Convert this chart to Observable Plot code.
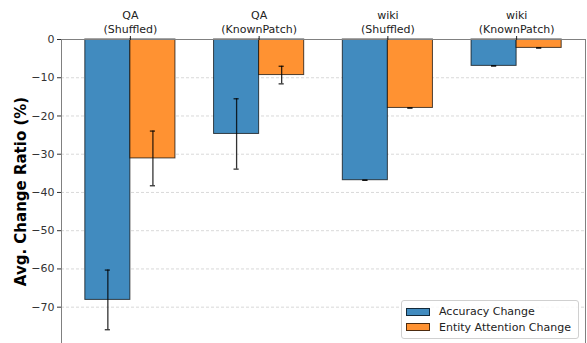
<!DOCTYPE html>
<html>
<head>
<meta charset="utf-8">
<script src="https://cdn.jsdelivr.net/npm/d3@7"></script>
<script src="https://cdn.jsdelivr.net/npm/@observablehq/plot@0.6"></script>
<style>
  html, body { margin: 0; padding: 0; background: #fff; }
  #wrap { position: relative; width: 587px; height: 343px; font-family: "DejaVu Sans", sans-serif; }
  #legend {
    position: absolute; left: 401px; top: 300px; width: 178px; height: 39px;
    border: 1px solid #d0d0d0; border-radius: 3px; background: rgba(255,255,255,0.85);
    font-size: 11px; color: #222; box-sizing: border-box; padding: 3px 0 0 4px;
  }
  .row { display: flex; align-items: center; height: 15.5px; }
  .sw { width: 24px; height: 8px; box-sizing: border-box; border: 1px solid rgba(0,0,0,0.7); margin-right: 9px; }
</style>
</head>
<body>
<div id="wrap"><div id="legend"></div></div>
<script>
// Task groups (top axis labels)
const groups = ["QA\n(Shuffled)", "QA\n(KnownPatch)", "wiki\n(Shuffled)", "wiki\n(KnownPatch)"];
const seriesNames = ["Accuracy Change", "Entity Attention Change"];
const seriesColors = ["#418bbf", "#ff9232"];
// Mean change ratio (%) and standard deviation per group
const accuracyMean = [-68.1, -24.7, -36.8, -6.9];
const accuracyErr  = [7.8, 9.2, 0, 0];
const attentionMean = [-31.1, -9.3, -17.9, -2.2];
const attentionErr  = [7.15, 2.3, 0, 0];
const yTicks = [0, -10, -20, -30, -40, -50, -60, -70];

const barWidth = 0.35;
const capHalf = 0.02;

const rows = [];
groups.forEach((g, i) => {
  rows.push({i, series: seriesNames[0], value: accuracyMean[i], err: accuracyErr[i], x1: i - barWidth, x2: i});
  rows.push({i, series: seriesNames[1], value: attentionMean[i], err: attentionErr[i], x1: i, x2: i + barWidth});
});
rows.forEach(d => { d.xc = (d.x1 + d.x2) / 2; });

const chart = Plot.plot({
  width: 587,
  height: 343,
  marginTop: 39,
  marginLeft: 61,
  marginRight: 2,
  marginBottom: 0,
  style: {fontFamily: "DejaVu Sans, sans-serif", fontSize: "11px", color: "#222", background: "transparent"},
  x: {domain: [-0.535, 3.535]},
  y: {domain: [-79.5, 0]},
  color: {domain: seriesNames, range: seriesColors},
  marks: [
    Plot.gridY(yTicks, {stroke: "#c0c0c0", strokeOpacity: 0.6, strokeDasharray: "3,2"}),
    Plot.rectY(rows, {x1: "x1", x2: "x2", y1: 0, y2: "value", fill: "series", stroke: "#000", strokeOpacity: 0.7, strokeWidth: 1}),
    Plot.ruleX(rows, {x: "xc", y1: d => d.value - d.err, y2: d => d.value + d.err, stroke: "#000", strokeOpacity: 0.8, strokeWidth: 1.3}),
    Plot.ruleY(rows, {y: d => d.value - d.err, x1: d => d.xc - capHalf, x2: d => d.xc + capHalf, stroke: "#000", strokeOpacity: 0.8, strokeWidth: 1.3}),
    Plot.ruleY(rows, {y: d => d.value + d.err, x1: d => d.xc - capHalf, x2: d => d.xc + capHalf, stroke: "#000", strokeOpacity: 0.8, strokeWidth: 1.3}),
    Plot.frame({stroke: "#808080", strokeWidth: 1}),
    Plot.axisY(yTicks, {tickSize: 4, tickPadding: 3, label: null, fontSize: 11, color: "#333",
      tickFormat: v => v < 0 ? "\u2212" + Math.abs(v) : String(v)}),
    Plot.axisX(d3.range(groups.length), {anchor: "top", tickSize: 4, tickPadding: 3, label: null, fontSize: 11, lineHeight: 1.25,
      tickFormat: i => groups[i], color: "#222"}),
    Plot.text(["Avg. Change Ratio (%)"], {frameAnchor: "left", textAnchor: "middle", dx: -40, rotate: -90, fontSize: 15, fontWeight: "bold", fill: "#000"})
  ]
});
document.getElementById("wrap").prepend(chart);

const legend = document.getElementById("legend");
seriesNames.forEach((name, k) => {
  const row = document.createElement("div");
  row.className = "row";
  const sw = document.createElement("span");
  sw.className = "sw";
  sw.style.background = seriesColors[k];
  const label = document.createElement("span");
  label.textContent = name;
  row.append(sw, label);
  legend.append(row);
});
</script>
</body>
</html>
